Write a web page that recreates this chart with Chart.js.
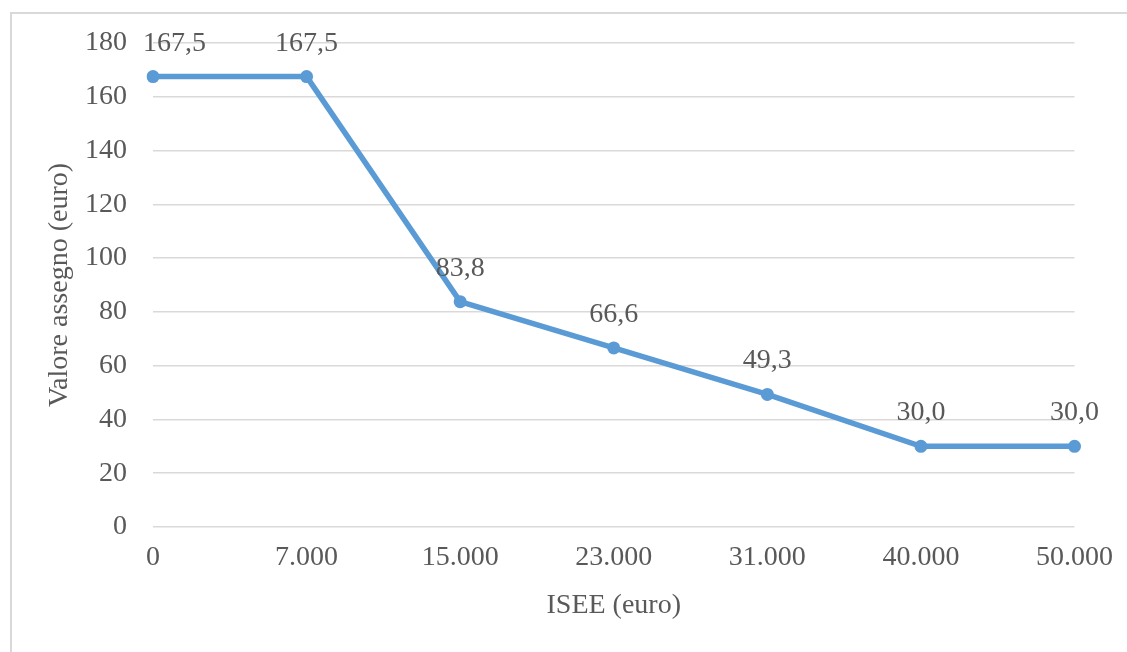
<!DOCTYPE html>
<html>
<head>
<meta charset="utf-8">
<script src="https://cdn.jsdelivr.net/npm/chart.js@4/dist/chart.umd.min.js"></script>
<style>
  html, body { margin: 0; padding: 0; background: #ffffff; }
  #wrap { position: relative; width: 1127px; height: 652px; overflow: hidden; }
  canvas { display: block; }
</style>
</head>
<body>
<div id="wrap"><canvas id="c" width="1127" height="652"></canvas></div>
<script>
// ISEE thresholds (euro) and the corresponding allowance value (euro)
const iseeLabels = ['0', '7.000', '15.000', '23.000', '31.000', '40.000', '50.000'];
const assegnoValues = [167.5, 167.5, 83.8, 66.6, 49.3, 30.0, 30.0];
const yTicks = [0, 20, 40, 60, 80, 100, 120, 140, 160, 180];

const FONT = "'Liberation Serif', 'Times New Roman', serif";
const FONT_SIZE = 28;
const TEXT = '#595959';
const LINE = '#5b9bd5';

// Light frame around the chart
const framePlugin = {
  id: 'frame',
  beforeDraw(chart) {
    const ctx = chart.ctx;
    ctx.save();
    ctx.fillStyle = '#ffffff';
    ctx.fillRect(0, 0, chart.width, chart.height);
    ctx.strokeStyle = '#d9d9d9';
    ctx.lineWidth = 2;
    ctx.strokeRect(11, 13, chart.width + 20, chart.height + 20);
    ctx.restore();
  }
};

// Value labels above each point, Italian decimal comma
const valueLabels = {
  id: 'valueLabels',
  afterDatasetsDraw(chart) {
    const ctx = chart.ctx;
    const meta = chart.getDatasetMeta(0);
    const data = chart.data.datasets[0].data;
    ctx.save();
    ctx.font = FONT_SIZE + 'px ' + FONT;
    ctx.fillStyle = TEXT;
    ctx.textBaseline = 'alphabetic';
    ctx.textAlign = 'left';
    meta.data.forEach((pt, i) => {
      const txt = data[i].toFixed(1).replace('.', ',');
      const w = ctx.measureText(txt).width;
      let x = pt.x - w / 2;
      const minX = chart.chartArea.left - 10;
      if (x < minX) x = minX;
      ctx.fillText(txt, x, pt.y - 26);
    });
    ctx.restore();
  }
};

new Chart(document.getElementById('c'), {
  type: 'line',
  data: {
    labels: iseeLabels,
    datasets: [{
      data: assegnoValues,
      borderColor: LINE,
      backgroundColor: LINE,
      borderWidth: 5.5,
      pointRadius: 6.5,
      pointHoverRadius: 6.5,
      pointBackgroundColor: LINE,
      pointBorderWidth: 0,
      tension: 0,
      fill: false
    }]
  },
  options: {
    responsive: false,
    animation: false,
    events: [],
    layout: { padding: { left: 30, right: 52, top: 43, bottom: 0 } },
    plugins: {
      legend: { display: false },
      tooltip: { enabled: false }
    },
    scales: {
      x: {
        type: 'category',
        offset: false,
        grid: { display: false, drawTicks: false },
        border: { display: false },
        ticks: {
          color: TEXT,
          font: { family: FONT, size: FONT_SIZE },
          padding: 14,
          maxRotation: 0,
          autoSkip: false
        },
        title: {
          display: true,
          text: 'ISEE (euro)',
          color: TEXT,
          font: { family: FONT, size: FONT_SIZE },
          padding: { top: 0, bottom: 30 }
        },
        afterFit(scale) { scale.height = 125; }
      },
      y: {
        min: 0,
        max: 180,
        afterBuildTicks(scale) { scale.ticks = yTicks.map(v => ({ value: v })); },
        grid: { color: '#d9d9d9', lineWidth: 1.5, drawTicks: false },
        border: { display: false },
        ticks: {
          color: TEXT,
          font: { family: FONT, size: FONT_SIZE },
          padding: 26
        },
        title: {
          display: true,
          text: 'Valore assegno (euro)',
          color: TEXT,
          font: { family: FONT, size: FONT_SIZE },
          padding: { top: 13, bottom: 0 }
        },
        afterFit(scale) { scale.width = 123; }
      }
    }
  },
  plugins: [framePlugin, valueLabels]
});
</script>
</body>
</html>
